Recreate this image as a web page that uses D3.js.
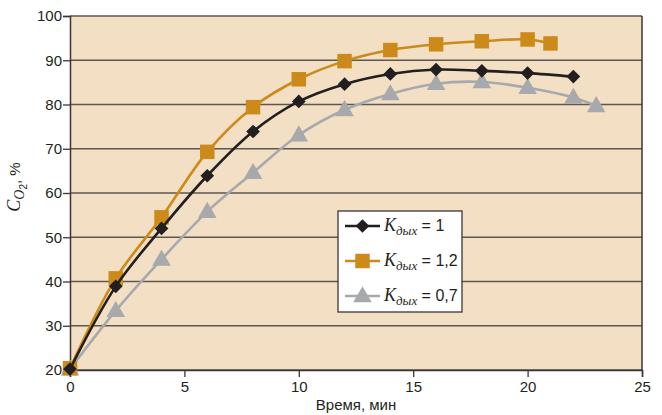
<!DOCTYPE html>
<html>
<head>
<meta charset="utf-8">
<script src="https://cdn.jsdelivr.net/npm/d3@7"></script>
<style>
  body { margin: 0; background: #fff; }
  svg text { font-family: "Liberation Sans", Arial, sans-serif; fill: #231f20; }
</style>
</head>
<body>
<div id="chart"></div>
<script>
  var
    width = 662,
    height = 415,
    margin = {top: 16, right: 22, bottom: 45, left: 70};

  // time, min
  var timeK1 = [0, 2, 4, 6, 8, 10, 12, 14, 16, 18, 20, 22];
  var valuesK1 = [20.2, 38.9, 52, 63.9, 73.9, 80.7, 84.6, 86.9, 87.9, 87.6, 87.1, 86.3];

  var timeK12 = [0, 2, 4, 6, 8, 10, 12, 14, 16, 18, 20, 21];
  var valuesK12 = [20.4, 40.7, 54.5, 69.3, 79.4, 85.7, 89.8, 92.3, 93.6, 94.3, 94.7, 93.8];

  var timeK07 = [0, 2, 4, 6, 8, 10, 12, 14, 16, 18, 20, 22, 23];
  var valuesK07 = [20.2, 33.4, 45, 55.8, 64.6, 73.1, 78.8, 82.4, 84.7, 85.1, 83.8, 81.6, 79.7];

  var xTicks = [0, 5, 10, 15, 20, 25];
  var yTicks = [20, 30, 40, 50, 60, 70, 80, 90, 100];
  var legendLabels = ['1', '1,2', '0,7'];

  var series = [
    {name: legendLabels[0], x: timeK1, y: valuesK1, color: '#231f20', marker: 'diamond'},
    {name: legendLabels[1], x: timeK12, y: valuesK12, color: '#cc8a1a', marker: 'square'},
    {name: legendLabels[2], x: timeK07, y: valuesK07, color: '#a7a9ac', marker: 'triangle'}
  ];

  var svg = d3.select('#chart').append('svg')
    .attr('width', width)
    .attr('height', height);

  var x = d3.scaleLinear().domain([0, 25]).range([margin.left, width - margin.right + 2]);
  var y = d3.scaleLinear().domain([20, 100]).range([height - margin.bottom, margin.top]);

  // plot background
  svg.append('rect')
    .attr('x', x(0)).attr('y', y(100))
    .attr('width', x(25) - x(0)).attr('height', y(20) - y(100))
    .attr('fill', '#f3dfc3');

  // grid
  svg.append('g')
    .selectAll('line')
    .data(yTicks)
    .enter().append('line')
    .attr('x1', x(0)).attr('x2', x(25))
    .attr('y1', function(d) { return y(d); })
    .attr('y2', function(d) { return y(d); })
    .attr('stroke', '#5e5650')
    .attr('stroke-width', 1.3);

  // right border
  svg.append('line')
    .attr('x1', x(25)).attr('x2', x(25))
    .attr('y1', y(100)).attr('y2', y(20))
    .attr('stroke', '#3a3636').attr('stroke-width', 1.5);

  // axes
  var xAxis = svg.append('g')
    .attr('transform', 'translate(0,' + y(20) + ')')
    .call(d3.axisBottom(x).tickValues(xTicks).tickSize(7).tickPadding(4));
  var yAxis = svg.append('g')
    .attr('transform', 'translate(' + x(0) + ',0)')
    .call(d3.axisLeft(y).tickValues(yTicks).tickSize(7).tickPadding(1));

  [xAxis, yAxis].forEach(function(ax) {
    ax.select('.domain').attr('stroke', '#3a3636').attr('stroke-width', 1.5);
    ax.selectAll('.tick line').attr('stroke', '#3a3636').attr('stroke-width', 1.3);
    ax.selectAll('.tick text').attr('font-size', 15).attr('fill', '#231f20')
      .attr('font-family', '"Liberation Sans", Arial, sans-serif');
  });

  // axis titles
  svg.append('text')
    .attr('x', (x(0) + x(25)) / 2)
    .attr('y', 410)
    .attr('text-anchor', 'middle')
    .attr('font-size', 15)
    .text('Время, мин');

  var yTitle = svg.append('text')
    .attr('transform', 'translate(20,' + 187 + ') rotate(-90)')
    .attr('text-anchor', 'middle')
    .attr('font-size', 15);
  yTitle.append('tspan')
    .attr('font-family', '"Liberation Serif", "Times New Roman", serif')
    .attr('font-style', 'italic').attr('font-size', 18).text('C');
  yTitle.append('tspan')
    .attr('font-family', '"Liberation Serif", "Times New Roman", serif')
    .attr('font-style', 'italic').attr('font-size', 14).attr('dy', 4).text('O');
  yTitle.append('tspan').attr('font-size', 10).attr('dy', 3).text('2');
  yTitle.append('tspan').attr('dy', -7).text(', %');

  // marker shapes
  function markerPath(type) {
    if (type === 'diamond') return d3.symbol().type(d3.symbolDiamond2).size(120)();
    if (type === 'square') return d3.symbol().type(d3.symbolSquare).size(210)();
    return d3.symbol().type(d3.symbolTriangle).size(150)();
  }

  var line = d3.line()
    .x(function(d) { return x(d[0]); })
    .y(function(d) { return y(d[1]); })
    .curve(d3.curveCatmullRom.alpha(0.5));

  var draw = [series[2], series[1], series[0]];
  draw.forEach(function(s) {
    var pts = s.x.map(function(t, i) { return [t, s.y[i]]; });
    svg.append('path')
      .datum(pts)
      .attr('d', line)
      .attr('fill', 'none')
      .attr('stroke', s.color)
      .attr('stroke-width', 2.6);
    svg.append('g')
      .selectAll('path')
      .data(pts)
      .enter().append('path')
      .attr('d', markerPath(s.marker))
      .attr('transform', function(d) {
        return 'translate(' + x(d[0]) + ',' + (y(d[1]) + (s.marker === 'triangle' ? 1 : 0)) + ')';
      })
      .attr('fill', s.color);
  });

  // legend
  var legend = svg.append('g').attr('transform', 'translate(338,211)');
  legend.append('rect')
    .attr('width', 124).attr('height', 101)
    .attr('fill', '#ffffff')
    .attr('stroke', '#3a3636').attr('stroke-width', 1.3);

  series.forEach(function(s, i) {
    var g = legend.append('g').attr('transform', 'translate(0,' + (15 + i * 35) + ')');
    g.append('line')
      .attr('x1', 7).attr('x2', 42).attr('y1', 0).attr('y2', 0)
      .attr('stroke', s.color).attr('stroke-width', 2.6);
    g.append('path')
      .attr('d', markerPath(s.marker))
      .attr('transform', 'translate(24.5,' + (s.marker === 'triangle' ? 1 : 0) + ')')
      .attr('fill', s.color);
    var t = g.append('text').attr('x', 46).attr('y', 5).attr('font-size', 16);
    t.append('tspan')
      .attr('font-family', '"Liberation Serif", "Times New Roman", serif')
      .attr('font-style', 'italic').attr('font-size', 18).text('K');
    t.append('tspan')
      .attr('font-family', '"Liberation Serif", "Times New Roman", serif')
      .attr('font-style', 'italic').attr('font-size', 13).attr('dy', 4).text('дых');
    t.append('tspan').attr('dy', -4).text(' = ' + s.name);
  });
</script>
</body>
</html>
